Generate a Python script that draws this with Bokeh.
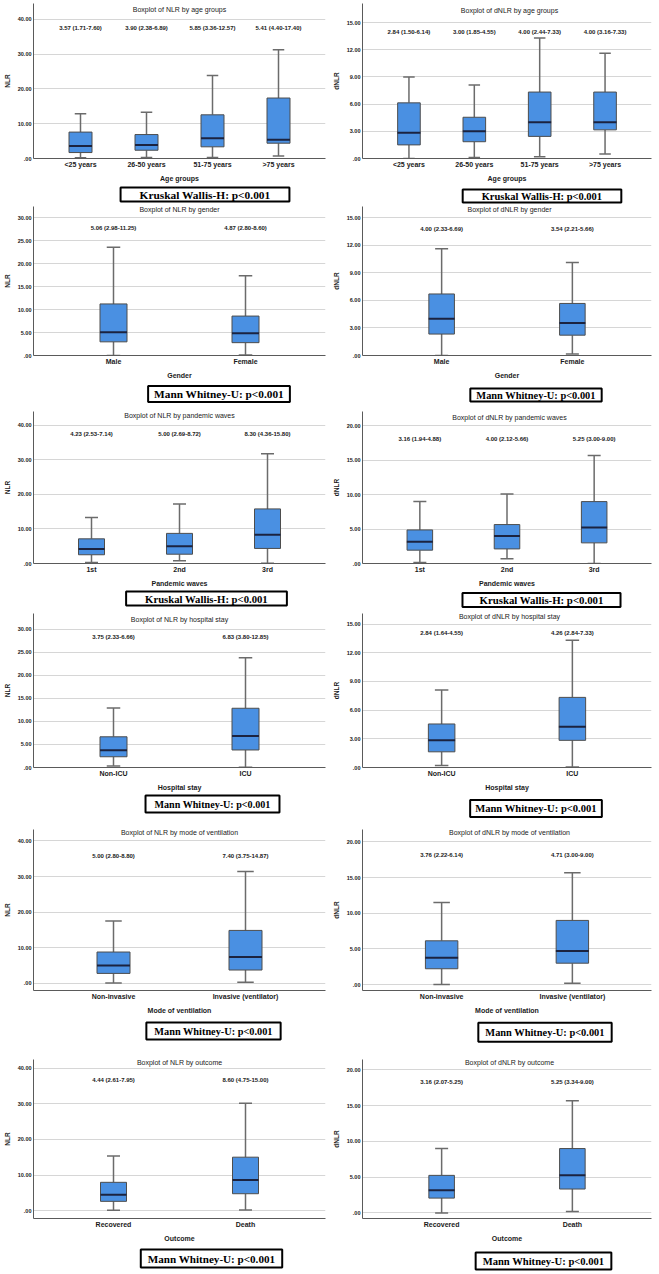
from bokeh.plotting import figure
from bokeh.models import FactorRange, Range1d, FixedTicker, Label, CustomJSTickFormatter
from bokeh.layouts import column, row
from bokeh.embed import file_html
from bokeh.resources import INLINE
from bokeh.core.properties import value

# ------------------------------------------------------------------ data
age_groups = ["<25 years", "26-50 years", "51-75 years", ">75 years"]
genders = ["Male", "Female"]
waves = ["1st", "2nd", "3rd"]
stays = ["Non-ICU", "ICU"]
ventilation = ["Non-invasive", "Invasive (ventilator)"]
outcomes = ["Recovered", "Death"]

# NLR by age groups
nlr_age_low = [0.2, 0.3, 0.3, 0.7]
nlr_age_q1 = [1.71, 2.38, 3.36, 4.40]
nlr_age_med = [3.57, 3.90, 5.85, 5.41]
nlr_age_q3 = [7.60, 6.89, 12.57, 17.40]
nlr_age_high = [12.9, 13.3, 23.9, 31.3]
# dNLR by age groups
dnlr_age_low = [0.0, 0.1, 0.2, 0.5]
dnlr_age_q1 = [1.50, 1.85, 2.44, 3.16]
dnlr_age_med = [2.84, 3.00, 4.00, 4.00]
dnlr_age_q3 = [6.14, 4.55, 7.33, 7.33]
dnlr_age_high = [9.0, 8.1, 13.3, 11.6]
# NLR by gender
nlr_gender_low = [0.0, 0.1]
nlr_gender_q1 = [2.98, 2.80]
nlr_gender_med = [5.06, 4.87]
nlr_gender_q3 = [11.25, 8.60]
nlr_gender_high = [23.6, 17.4]
# dNLR by gender
dnlr_gender_low = [0.0, 0.15]
dnlr_gender_q1 = [2.33, 2.21]
dnlr_gender_med = [4.00, 3.54]
dnlr_gender_q3 = [6.69, 5.66]
dnlr_gender_high = [11.6, 10.1]
# NLR by pandemic waves
nlr_wave_low = [0.3, 0.8, 0.1]
nlr_wave_q1 = [2.53, 2.69, 4.36]
nlr_wave_med = [4.23, 5.00, 8.30]
nlr_wave_q3 = [7.14, 8.72, 15.80]
nlr_wave_high = [13.3, 17.2, 31.8]
# dNLR by pandemic waves
dnlr_wave_low = [0.15, 0.7, 0.0]
dnlr_wave_q1 = [1.94, 2.12, 3.00]
dnlr_wave_med = [3.16, 4.00, 5.25]
dnlr_wave_q3 = [4.88, 5.66, 9.00]
dnlr_wave_high = [9.0, 10.1, 15.7]
# NLR by hospital stay
nlr_stay_low = [0.3, 0.05]
nlr_stay_q1 = [2.33, 3.80]
nlr_stay_med = [3.75, 6.83]
nlr_stay_q3 = [6.66, 12.85]
nlr_stay_high = [12.9, 23.8]
# dNLR by hospital stay
dnlr_stay_low = [0.2, 0.05]
dnlr_stay_q1 = [1.64, 2.84]
dnlr_stay_med = [2.84, 4.26]
dnlr_stay_q3 = [4.55, 7.33]
dnlr_stay_high = [8.1, 13.3]
# NLR by mode of ventilation
nlr_vent_low = [0.1, 0.3]
nlr_vent_q1 = [2.80, 3.75]
nlr_vent_med = [5.00, 7.40]
nlr_vent_q3 = [8.80, 14.87]
nlr_vent_high = [17.5, 31.4]
# dNLR by mode of ventilation
dnlr_vent_low = [0.0, 0.2]
dnlr_vent_q1 = [2.22, 3.00]
dnlr_vent_med = [3.76, 4.71]
dnlr_vent_q3 = [6.14, 9.00]
dnlr_vent_high = [11.5, 15.7]
# NLR by outcome
nlr_out_low = [0.1, 0.2]
nlr_out_q1 = [2.61, 4.75]
nlr_out_med = [4.44, 8.60]
nlr_out_q3 = [7.95, 15.00]
nlr_out_high = [15.3, 30.1]
# dNLR by outcome
dnlr_out_low = [0.0, 0.2]
dnlr_out_q1 = [2.07, 3.34]
dnlr_out_med = [3.16, 5.25]
dnlr_out_q3 = [5.25, 9.00]
dnlr_out_high = [9.0, 15.7]

ticks_10_40 = [0, 10, 20, 30, 40]
ticks_5_30 = [0, 5, 10, 15, 20, 25, 30]
ticks_3_15 = [0, 3, 6, 9, 12, 15]
ticks_5_20 = [0, 5, 10, 15, 20]

KW = "Kruskal Wallis-H: p<0.001"
MW = "Mann Whitney-U: p<0.001"

panels = [
    dict(title="Boxplot of NLR by age groups", cats=age_groups, low=nlr_age_low, q1=nlr_age_q1, med=nlr_age_med,
         q3=nlr_age_q3, high=nlr_age_high, xlabel="Age groups", ylabel="NLR", ticks=ticks_10_40, test=KW),
    dict(title="Boxplot of dNLR by age groups", cats=age_groups, low=dnlr_age_low, q1=dnlr_age_q1, med=dnlr_age_med,
         q3=dnlr_age_q3, high=dnlr_age_high, xlabel="Age groups", ylabel="dNLR", ticks=ticks_3_15, test=KW),
    dict(title="Boxplot of NLR by gender", cats=genders, low=nlr_gender_low, q1=nlr_gender_q1, med=nlr_gender_med,
         q3=nlr_gender_q3, high=nlr_gender_high, xlabel="Gender", ylabel="NLR", ticks=ticks_5_30, test=MW),
    dict(title="Boxplot of dNLR by gender", cats=genders, low=dnlr_gender_low, q1=dnlr_gender_q1, med=dnlr_gender_med,
         q3=dnlr_gender_q3, high=dnlr_gender_high, xlabel="Gender", ylabel="dNLR", ticks=ticks_3_15, test=MW),
    dict(title="Boxplot of NLR by pandemic waves", cats=waves, low=nlr_wave_low, q1=nlr_wave_q1, med=nlr_wave_med,
         q3=nlr_wave_q3, high=nlr_wave_high, xlabel="Pandemic waves", ylabel="NLR", ticks=ticks_10_40, test=KW),
    dict(title="Boxplot of dNLR by pandemic waves", cats=waves, low=dnlr_wave_low, q1=dnlr_wave_q1, med=dnlr_wave_med,
         q3=dnlr_wave_q3, high=dnlr_wave_high, xlabel="Pandemic waves", ylabel="dNLR", ticks=ticks_5_20, test=KW),
    dict(title="Boxplot of NLR by hospital stay", cats=stays, low=nlr_stay_low, q1=nlr_stay_q1, med=nlr_stay_med,
         q3=nlr_stay_q3, high=nlr_stay_high, xlabel="Hospital stay", ylabel="NLR", ticks=ticks_5_30, test=MW),
    dict(title="Boxplot of dNLR by hospital stay", cats=stays, low=dnlr_stay_low, q1=dnlr_stay_q1, med=dnlr_stay_med,
         q3=dnlr_stay_q3, high=dnlr_stay_high, xlabel="Hospital stay", ylabel="dNLR", ticks=ticks_3_15, test=MW),
    dict(title="Boxplot of NLR by mode of ventilation", cats=ventilation, low=nlr_vent_low, q1=nlr_vent_q1,
         med=nlr_vent_med, q3=nlr_vent_q3, high=nlr_vent_high, xlabel="Mode of ventilation", ylabel="NLR",
         ticks=ticks_10_40, test=MW),
    dict(title="Boxplot of dNLR by mode of ventilation", cats=ventilation, low=dnlr_vent_low, q1=dnlr_vent_q1,
         med=dnlr_vent_med, q3=dnlr_vent_q3, high=dnlr_vent_high, xlabel="Mode of ventilation", ylabel="dNLR",
         ticks=ticks_5_20, test=MW),
    dict(title="Boxplot of NLR by outcome", cats=outcomes, low=nlr_out_low, q1=nlr_out_q1, med=nlr_out_med,
         q3=nlr_out_q3, high=nlr_out_high, xlabel="Outcome", ylabel="NLR", ticks=ticks_10_40, test=MW),
    dict(title="Boxplot of dNLR by outcome", cats=outcomes, low=dnlr_out_low, q1=dnlr_out_q1, med=dnlr_out_med,
         q3=dnlr_out_q3, high=dnlr_out_high, xlabel="Outcome", ylabel="dNLR", ticks=ticks_5_20, test=MW),
]

# ------------------------------------------------------------------ layout / style
# per row: top border, frame height, strip height for the test box
rows_geom = [(3, 158, 21), (1, 152, 29), (1, 155, 23), (1, 157, 29), (7, 164, 29), (14, 162, 30)]
AXIS_B = 23  # space for x-axis labels under each plot frame
COLS = [dict(W=329, L=33, R=4), dict(W=330, L=28, R=8)]
# per panel: y range, box width px, title offset, annotation offset,
# stat box (center x in fig, width, height, font px, center y from strip top)
styles = [
    dict(y0=0, y1=44.6, box=23, t_off=9, a_off=25, sb=(171.5, 171, 16, 11.4, 10)),
    dict(y0=0, y1=17.1, box=23, t_off=10, a_off=29, sb=(179.5, 159, 15, 10.5, 11.5)),
    dict(y0=0, y1=32.5, box=27, t_off=6, a_off=22, sb=(185.5, 143, 17, 11.3, 12.5)),
    dict(y0=0, y1=16.2, box=26, t_off=6, a_off=23, sb=(173.5, 133, 15, 10.4, 13.5)),
    dict(y0=0, y1=44.0, box=26, t_off=7, a_off=23, sb=(173, 162, 14, 10.7, 9)),
    dict(y0=0, y1=22.1, box=26, t_off=9, a_off=28, sb=(179, 160, 15, 10.8, 10.5)),
    dict(y0=0, y1=33.4, box=27, t_off=9, a_off=24, sb=(179, 136, 19, 10.1, 10.5)),
    dict(y0=0, y1=16.1, box=27, t_off=6, a_off=20, sb=(173.5, 133, 20, 10.6, 15)),
    dict(y0=-2.0, y1=43.2, box=33, t_off=6, a_off=27, sb=(180, 136, 19, 10.3, 14.5)),
    dict(y0=-0.83, y1=21.75, box=33, t_off=6, a_off=26, sb=(182.5, 135, 20, 10.4, 15.7)),
    dict(y0=-2.2, y1=42.4, box=26, t_off=6, a_off=21, sb=(178, 142, 20, 11.1, 14)),
    dict(y0=-0.78, y1=21.45, box=26, t_off=6, a_off=23, sb=(181, 136, 19, 10.6, 16.5)),
]

SANS = value("Liberation Sans")
SERIF = "Liberation Serif"
BLUE = "#4a90e2"
BOX_LINE = "#4d4d4d"
WHISK = "#6b6b6b"
MEDIAN = "#1b2340"
TXT = "#1a1a1a"


def make_panel(d, s, col, T, F, hb):
    W, LB, RB = col["W"], col["L"], col["R"]
    FW = W - LB - RB
    PH = T + F + AXIS_B
    n = len(d["cats"])
    spacing = (FW - 28) / n
    xr = FactorRange(factors=d["cats"], range_padding=14 / spacing, range_padding_units="absolute")
    yr = Range1d(s["y0"], s["y1"])
    p = figure(width=W, height=PH, x_range=xr, y_range=yr, output_backend="svg", toolbar_location=None,
               min_border_left=LB, min_border_right=RB, min_border_top=T, min_border_bottom=AXIS_B)
    p.outline_line_color = None
    p.xgrid.grid_line_color = None
    p.ygrid.grid_line_color = "#d6d6d6"
    p.ygrid.grid_line_width = 1

    p.yaxis.ticker = FixedTicker(ticks=d["ticks"])
    p.yaxis.formatter = CustomJSTickFormatter(code="return tick == 0 ? '.00' : tick.toFixed(2);")
    p.yaxis.axis_label = d["ylabel"]
    p.xaxis.axis_label = d["xlabel"]
    for ax in (p.xaxis, p.yaxis):
        ax.axis_line_color = "#5a5a5a"
        ax.axis_line_width = 1
        ax.major_tick_line_color = None
        ax.minor_tick_line_color = None
        ax.major_tick_out = 0
        ax.major_tick_in = 0
        ax.minor_tick_out = 0
        ax.minor_tick_in = 0
        ax.major_label_text_font = "Liberation Sans"
        ax.axis_label_text_font = "Liberation Sans"
        ax.major_label_text_color = TXT
        ax.axis_label_text_color = TXT
        ax.axis_label_text_font_style = "bold"
        ax.major_label_text_font_style = "bold"
        ax.major_label_standoff = 2
        ax.axis_label_standoff = 4
    p.yaxis.major_label_text_font_size = "5.5px"
    p.yaxis.axis_label_text_font_size = "6.5px"
    p.xaxis.major_label_text_font_size = "7px"
    p.xaxis.axis_label_text_font_size = "7px"

    cats = d["cats"]
    wdata = s["box"] / spacing
    p.segment(x0=cats, y0=d["q3"], x1=cats, y1=d["high"], line_color=WHISK, line_width=1.5)
    p.segment(x0=cats, y0=d["low"], x1=cats, y1=d["q1"], line_color=WHISK, line_width=1.5)
    p.scatter(x=cats, y=d["high"], marker="dash", size=s["box"] / 2, line_color=WHISK, line_width=1.5)
    p.scatter(x=cats, y=d["low"], marker="dash", size=s["box"] / 2, line_color=WHISK, line_width=1.5)
    p.vbar(x=cats, width=wdata, bottom=d["q1"], top=d["q3"], fill_color=BLUE, line_color=BOX_LINE, line_width=1)
    p.scatter(x=cats, y=d["med"], marker="dash", size=s["box"], line_color=MEDIAN, line_width=2)

    span = s["y1"] - s["y0"]
    ann_y = s["y1"] - s["a_off"] * span / F
    labels = [f"{m:.2f} ({a:.2f}-{b:.2f})" for m, a, b in zip(d["med"], d["q1"], d["q3"])]
    p.text(x=cats, y=[ann_y] * n, text=labels, text_align="center", text_baseline="middle",
           text_font=SANS, text_font_size="6px", text_font_style="bold", text_color=TXT)

    p.add_layout(Label(x=FW / 2, y=F - s["t_off"], x_units="screen", y_units="screen", text=d["title"],
                       text_align="center", text_baseline="middle", text_font="Liberation Sans",
                       text_font_size="7px", text_font_style="normal", text_color=TXT))

    # stat test box, in its own strip under the plot
    cx, bw, bh, fs, cy = s["sb"]
    q = figure(width=W, height=hb, x_range=Range1d(0, W), y_range=Range1d(0, hb), output_backend="svg",
               toolbar_location=None, x_axis_location=None, y_axis_location=None,
               min_border_left=0, min_border_right=0, min_border_top=0, min_border_bottom=0)
    q.outline_line_color = None
    q.xgrid.grid_line_color = None
    q.ygrid.grid_line_color = None
    pad_x = int(max(2, (bw - 11.5 * fs) / 2))
    pad_y = int(max(1, (bh - 1.15 * fs) / 2))
    q.add_layout(Label(x=cx, y=hb - cy, x_units="screen", y_units="screen", text=d["test"],
                       text_align="center", text_baseline="middle", text_font=SERIF,
                       text_font_size=f"{fs}px", text_font_style="bold", text_color="black",
                       border_line_color="black", border_line_width=2, background_fill_color="white",
                       padding=dict(left=pad_x, right=pad_x, top=pad_y, bottom=pad_y)))
    return column(p, q)


grid_rows = []
for r, (T, F, hb) in enumerate(rows_geom):
    left = make_panel(panels[2 * r], styles[2 * r], COLS[0], T, F, hb)
    right = make_panel(panels[2 * r + 1], styles[2 * r + 1], COLS[1], T, F, hb)
    grid_rows.append(row(left, right))

layout = column(*grid_rows)
open("out.html", "w").write(file_html(layout, INLINE))
